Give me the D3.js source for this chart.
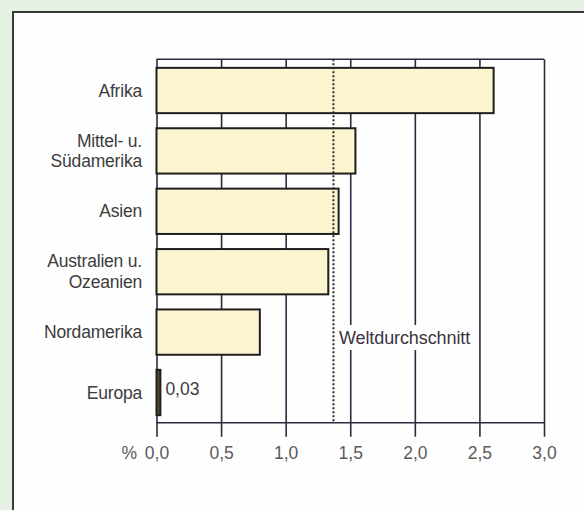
<!DOCTYPE html>
<html>
<head>
<meta charset="utf-8">
<script src="https://cdn.jsdelivr.net/npm/d3@7"></script>
<style>
  html, body { margin: 0; padding: 0; background: #e5f2e3; }
  svg { display: block; }
  text { font-family: "Liberation Sans", Arial, Helvetica, sans-serif; }
</style>
</head>
<body>
<svg id="chart" width="584" height="510"></svg>
<script>
const categories = ["Afrika", "Mittel- u.\nSüdamerika", "Asien", "Australien u.\nOzeanien", "Nordamerika", "Europa"];
const values = [2.61, 1.54, 1.41, 1.33, 0.80, 0.03];
const valueLabels = ["", "", "", "", "", "0,03"];
const tickValues = [0, 0.5, 1.0, 1.5, 2.0, 2.5, 3.0];
const tickLabels = ["0,0", "0,5", "1,0", "1,5", "2,0", "2,5", "3,0"];
const worldAverage = 1.37;
const worldLabel = "Weltdurchschnitt";
const unitLabel = "%";

const svg = d3.select("#chart");
const plotTop = 59.3, plotBottom = 422.7, tickBottom = 436.7;
const fs = "17.5px";

// panel
svg.append("rect").attr("x", 13).attr("y", 12).attr("width", 600).attr("height", 520)
  .attr("fill", "#fefefe").attr("stroke", "#3a3a3a").attr("stroke-width", 2);

const x = d3.scaleLinear().domain([0, 3]).range([156.5, 544]);
const y = d3.scaleBand().domain(categories).range([plotTop + 1, plotBottom]).paddingInner(0.25).paddingOuter(0.125);

// grid/axis
const axis = d3.axisBottom(x).tickValues(tickValues)
  .tickFormat((d, i) => tickLabels[i])
  .tickSize(-(tickBottom - plotTop)).tickPadding(9.5);
const ag = svg.append("g").attr("transform", `translate(0,${tickBottom})`).call(axis);
ag.select(".domain").remove();
ag.selectAll(".tick line").attr("stroke", "#2b2b40").attr("stroke-width", 1.6);
ag.selectAll(".tick text").attr("fill", "#5a5a5a").style("font-size", fs)
  .style("font-family", "'Liberation Sans', Arial, sans-serif");

// top and bottom frame lines
svg.append("line").attr("x1", x(0)).attr("x2", x(3)).attr("y1", plotTop).attr("y2", plotTop)
  .attr("stroke", "#2b2b40").attr("stroke-width", 1.6);
svg.append("line").attr("x1", x(0)).attr("x2", x(3)).attr("y1", plotBottom).attr("y2", plotBottom)
  .attr("stroke", "#2b2b40").attr("stroke-width", 1.6);

// unit label
svg.append("text").attr("x", 137).attr("y", tickBottom + 9.5).attr("dy", "0.71em")
  .attr("text-anchor", "end").attr("fill", "#5a5a5a").style("font-size", fs).text(unitLabel);

// bars
svg.selectAll("rect.bar").data(categories).enter().append("rect").attr("class", "bar")
  .attr("x", x(0)).attr("y", d => y(d))
  .attr("width", (d, i) => x(values[i]) - x(0))
  .attr("height", y.bandwidth())
  .attr("fill", (d, i) => values[i] < 0.1 ? "#5a4c34" : "#fcf5cf")
  .attr("stroke", "#1e1e1e").attr("stroke-width", 2);

// category labels
categories.forEach((c, i) => {
  const lines = c.split("\n");
  const cy = y(c) + y.bandwidth() / 2;
  const lh = 20.5;
  const t = svg.append("text").attr("text-anchor", "end").attr("fill", "#3c3c3c")
    .style("font-size", fs).style("letter-spacing", "-0.2px");
  lines.forEach((l, j) => {
    t.append("tspan").attr("x", 142)
      .attr("y", cy + 6 + (j - (lines.length - 1) / 2) * lh).text(l);
  });
  if (valueLabels[i]) {
    svg.append("text").attr("x", x(values[i]) + 5).attr("y", cy + 2)
      .attr("fill", "#3c3c3c").style("font-size", fs).text(valueLabels[i]);
  }
});

// world average dotted line
svg.append("line").attr("x1", x(worldAverage)).attr("x2", x(worldAverage))
  .attr("y1", plotTop).attr("y2", plotBottom)
  .attr("stroke", "#2a2a2a").attr("stroke-width", 2).attr("stroke-dasharray", "2,2");

// world label with white background
svg.append("rect").attr("x", x(worldAverage) + 4).attr("y", 325).attr("width", 138).attr("height", 25)
  .attr("fill", "#fefefe");
svg.append("text").attr("x", x(worldAverage) + 5.5).attr("y", 343.5)
  .attr("fill", "#3a3440").style("font-size", "18px").style("letter-spacing", "-0.1px").text(worldLabel);
</script>
</body>
</html>
